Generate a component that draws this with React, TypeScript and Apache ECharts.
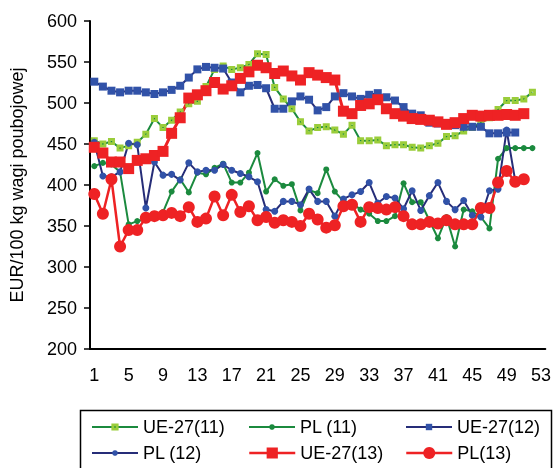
import React, { useEffect, useRef } from "react";
import * as echarts from "echarts";

const weeks: string[] = Array.from({ length: 53 }, (_, i) => String(i + 1));

const ue27_11 = [454, 450, 453, 445, 448, 452, 462, 481, 470, 479, 489, 499, 502, 520, 541, 545, 541, 543, 547, 560, 559, 519, 505, 493, 477, 466, 470, 471, 467, 462, 473, 454, 454, 455, 448, 449, 449, 446, 445, 448, 451, 459, 460, 466, 470, 476, 482, 492, 503, 503, 505, 513];
const pl_11 = [423, 427, 425, 416, 352, 356, 358, 362, 367, 392, 407, 391, 415, 413, 421, 426, 403, 403, 415, 439, 392, 407, 399, 401, 369, 394, 390, 419, 392, 380, 378, 370, 365, 356, 356, 362, 402, 379, 379, 357, 335, 361, 325, 370, 368, 361, 347, 432, 445, 445, 445, 445];
const ue27_12 = [526, 520, 515, 513, 515, 515, 513, 511, 513, 516, 521, 531, 541, 544, 543, 542, 525, 513, 521, 522, 518, 493, 493, 502, 508, 504, 491, 495, 508, 512, 508, 505, 510, 512, 507, 503, 495, 487, 485, 476, 475, 473, 473, 471, 471, 471, 463, 463, 464, 464];
const pl_12 = [452, 411, 410, 416, 451, 449, 372, 428, 412, 413, 406, 427, 416, 418, 418, 425, 418, 414, 410, 404, 370, 368, 380, 380, 376, 395, 380, 380, 362, 383, 388, 392, 403, 378, 386, 384, 371, 393, 369, 387, 403, 380, 370, 381, 363, 361, 393, 395, 467, 405];
const ue27_13 = [446, 439, 428, 428, 420, 430, 432, 436, 441, 463, 482, 506, 510, 515, 525, 517, 521, 530, 538, 546, 543, 536, 539, 533, 528, 537, 534, 531, 528, 490, 487, 497, 499, 504, 493, 487, 484, 481, 480, 479, 477, 474, 476, 481, 485, 484, 485, 485, 486, 485, 487];
const pl_13 = [389, 365, 407, 325, 345, 345, 360, 362, 363, 366, 362, 373, 355, 359, 386, 363, 388, 367, 374, 357, 361, 354, 357, 355, 350, 365, 358, 348, 351, 374, 376, 355, 373, 372, 370, 373, 362, 352, 352, 355, 353, 357, 352, 352, 352, 372, 372, 403, 417, 404, 407];

const FONT = "'Liberation Sans', Arial, sans-serif";
const GREEN = "#1b8a3e";
const LIGHTGREEN = "#9acd3a";
const NAVY = "#262d78";
const BLUE = "#3152a8";
const RED = "#ee2224";
const SQUARE_DOT = "path://M0,0H10V10H0Z M4,4V6H6V4Z";

export default function App() {
  const ref = useRef<HTMLDivElement>(null);
  useEffect(() => {
    if (!ref.current) return;
    const chart = echarts.init(ref.current, undefined, { renderer: "svg" });
    const mkLegend = (name: string, left: number, top: number, itemHeight: number, lw: number) => ({
      data: [name],
      left,
      top,
      padding: 0,
      itemWidth: 46,
      itemHeight,
      selectedMode: false,
      lineStyle: { width: lw },
      textStyle: { fontSize: 18, color: "#000", fontFamily: FONT },
    });
    chart.setOption({
      animation: false,
      textStyle: { fontFamily: FONT },
      grid: { left: 90, top: 21, right: 7, bottom: 119 },
      xAxis: {
        type: "category",
        data: weeks,
        boundaryGap: true,
        axisLine: { lineStyle: { color: "#000", width: 2 } },
        axisTick: { interval: 0, length: 7, lineStyle: { color: "#000", width: 1.5 } },
        axisLabel: { interval: 3, fontSize: 18, color: "#000", margin: 17, fontFamily: FONT },
        splitLine: { show: false },
      },
      yAxis: {
        type: "value",
        min: 200,
        max: 600,
        interval: 50,
        name: "EUR/100 kg wagi poubojowej",
        nameLocation: "middle",
        nameRotate: 90,
        nameGap: 64,
        nameTextStyle: { fontSize: 18, color: "#000", fontFamily: FONT },
        axisLine: { show: true, lineStyle: { color: "#000", width: 2 } },
        axisTick: { show: true, length: 6, lineStyle: { color: "#000", width: 1.5 } },
        axisLabel: { fontSize: 18, color: "#000", margin: 13, fontFamily: FONT },
        splitLine: { show: false },
      },
      legend: [
        mkLegend("UE-27(11)", 91, 418, 9, 2),
        mkLegend("PL (11)", 248, 418, 7, 2),
        mkLegend("UE-27(12)", 405, 418, 8, 2),
        mkLegend("PL (12)", 91, 444, 7, 2),
        mkLegend("UE-27(13)", 248, 444, 14, 2.5),
        mkLegend("PL(13)", 405, 444, 15, 2.5),
      ],
      graphic: [
        {
          type: "rect",
          shape: { x: 80.5, y: 410.5, width: 471, height: 80 },
          style: { fill: "none", stroke: "#000", lineWidth: 1.5 },
          z: -1,
        },
      ],
      series: [
        {
          name: "UE-27(11)",
          type: "line",
          data: ue27_11,
          showAllSymbol: true,
          symbol: SQUARE_DOT,
          symbolSize: 7,
          lineStyle: { color: GREEN, width: 2 },
          itemStyle: { color: LIGHTGREEN },
        },
        {
          name: "PL (11)",
          type: "line",
          data: pl_11,
          showAllSymbol: true,
          symbol: "circle",
          symbolSize: 6,
          lineStyle: { color: GREEN, width: 2 },
          itemStyle: { color: GREEN },
        },
        {
          name: "UE-27(12)",
          type: "line",
          data: ue27_12,
          showAllSymbol: true,
          symbol: "rect",
          symbolSize: 8,
          lineStyle: { color: NAVY, width: 2 },
          itemStyle: { color: BLUE },
        },
        {
          name: "PL (12)",
          type: "line",
          data: pl_12,
          showAllSymbol: true,
          symbol: "circle",
          symbolSize: 7,
          lineStyle: { color: NAVY, width: 2 },
          itemStyle: { color: BLUE },
        },
        {
          name: "UE-27(13)",
          type: "line",
          data: ue27_13,
          showAllSymbol: true,
          symbol: "rect",
          symbolSize: 11,
          lineStyle: { color: RED, width: 3 },
          itemStyle: { color: RED },
        },
        {
          name: "PL(13)",
          type: "line",
          data: pl_13,
          showAllSymbol: true,
          symbol: "circle",
          symbolSize: 12,
          lineStyle: { color: RED, width: 2.5 },
          itemStyle: { color: RED },
        },
      ],
    });
    return () => chart.dispose();
  }, []);
  return <div ref={ref} style={{ position: "fixed", left: 0, top: 0, width: 554, height: 468 }} />;
}
